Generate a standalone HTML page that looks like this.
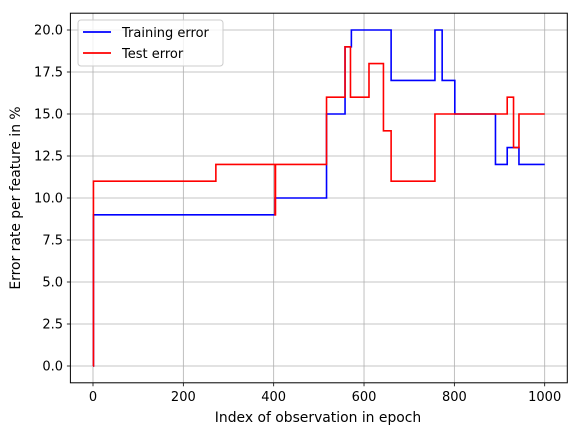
<!DOCTYPE html>
<html><head><meta charset="utf-8"><style>
body{margin:0;background:#fff;}
svg{display:block;font-family:"DejaVu Sans","Liberation Sans",sans-serif;}
</style></head><body>
<svg id="chart" width="579" height="436" viewBox="0 0 579 436" xmlns="http://www.w3.org/2000/svg">
<rect width="579" height="436" fill="#fff"/>
<g id="grid"></g>
<g id="series"></g>
<rect x="70.4" y="13.2" width="496.9" height="369.6" fill="none" stroke="#000" stroke-width="1"/>
<g id="ticks"></g>
<text x="318" y="422" font-size="13.9" text-anchor="middle">Index of observation in epoch</text>
<text transform="translate(20,198) rotate(-90)" font-size="13.9" text-anchor="middle">Error rate per feature in %</text>
<g>
<rect x="78" y="20" width="145" height="46" rx="3" fill="#fff" fill-opacity="0.8" stroke="#ccc"/>
<g>
<line x1="83" y1="32" x2="111" y2="32" stroke="#0000ff" stroke-width="1.8"/>
<text x="122" y="37" font-size="13">Training error</text>
</g>
<g>
<line x1="83" y1="53" x2="111" y2="53" stroke="#ff0000" stroke-width="1.8"/>
<text x="122" y="58" font-size="13">Test error</text>
</g>
</g>
</svg>
<script>
const xTicks=[0,200,400,600,800,1000];
const yTicks=[0,2.5,5,7.5,10,12.5,15,17.5,20];
const yTickLabels=["0.0","2.5","5.0","7.5","10.0","12.5","15.0","17.5","20.0"];
const trainX=[0,1,403,517,558,572,660,757,773,801,891,917,943,1000];
const trainY=[0,9,10,15,19,20,17,20,17,15,12,13,12,12];
const testX=[0,1,272,402,403,404,517,558,570,611,643,660,757,917,931,943,1000];
const testY=[0,11,12,12,9,12,16,19,16,18,14,11,15,16,13,15,15];
const NS="http://www.w3.org/2000/svg";
function sx(v){return 93+v*0.4517;}
function sy(v){return 366-v*16.8;}
function mk(t,a,p){const e=document.createElementNS(NS,t);for(const k in a)e.setAttribute(k,a[k]);p.appendChild(e);return e;}
const grid=document.getElementById('grid'),ticks=document.getElementById('ticks'),series=document.getElementById('series');
xTicks.forEach(v=>{
 const g=mk('line',{x1:sx(v),x2:sx(v),y1:13.2,y2:382.8,stroke:'#b0b0b0','stroke-width':0.8},grid);
 
 
 mk('line',{x1:sx(v),x2:sx(v),y1:382.8,y2:386.3,stroke:'#000','stroke-width':0.8},ticks);
 const t=mk('text',{x:sx(v),y:401,'font-size':13,'text-anchor':'middle'},ticks);
 t.textContent=v;
 
 
});
yTicks.forEach((v,i)=>{
 const g=mk('line',{x1:70.4,x2:567.3,y1:sy(v),y2:sy(v),stroke:'#b0b0b0','stroke-width':0.8},grid);
 
 
 mk('line',{x1:66.9,x2:70.4,y1:sy(v),y2:sy(v),stroke:'#000','stroke-width':0.8},ticks);
 const t=mk('text',{x:63,y:sy(v)+4.5,'font-size':13,'text-anchor':'end'},ticks);
 t.textContent=yTickLabels[i];
 
 
});
function stepPath(xs,ys){
 let d='M'+sx(xs[0])+' '+sy(ys[0]);
 for(let i=1;i<xs.length;i++){d+=' L'+sx(xs[i])+' '+sy(ys[i-1])+' L'+sx(xs[i])+' '+sy(ys[i]);}
 return d;
}
const p1=mk('path',{d:stepPath(trainX,trainY),fill:'none',stroke:'#0000ff','stroke-width':1.6},series);


const p2=mk('path',{d:stepPath(testX,testY),fill:'none',stroke:'#ff0000','stroke-width':1.6},series);


</script>
</body></html>
